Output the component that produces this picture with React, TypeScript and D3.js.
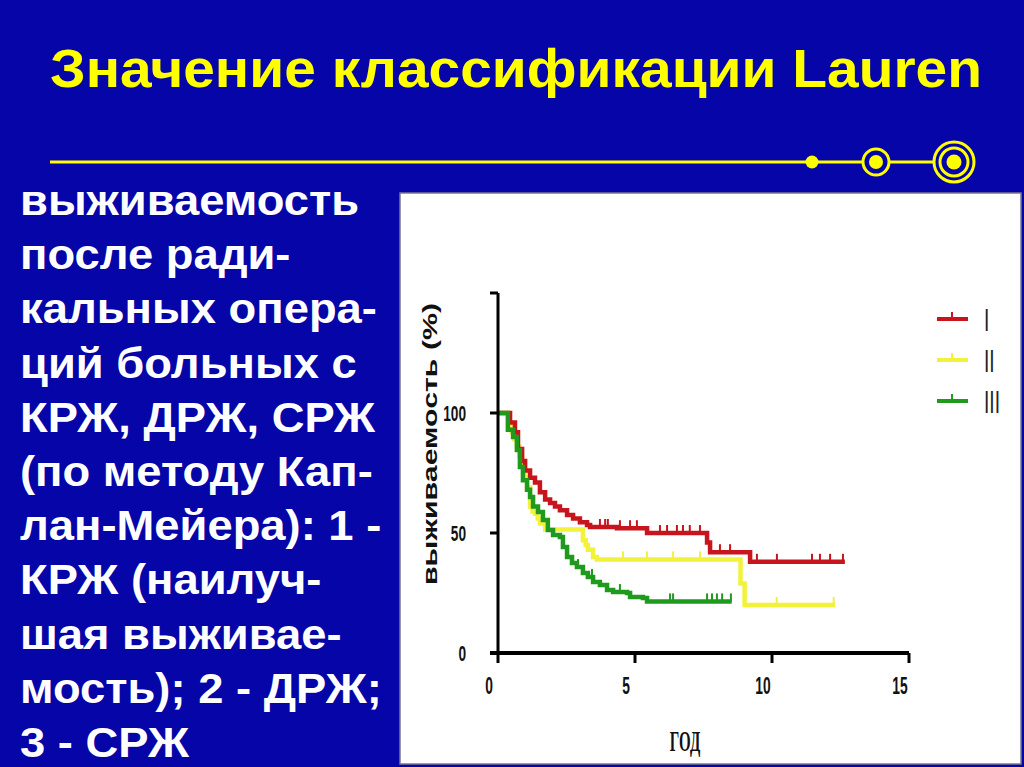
import * as React from 'react'
import { useEffect, useRef } from 'react'
import * as d3 from 'd3'

// survival curves: [year, survival %], step after each point
const groupI: [number, number][] = [
  [0, 100], [0.44, 96], [0.62, 92], [0.73, 85], [0.88, 80], [0.99, 76], [1.17, 73],
  [1.35, 71], [1.53, 67], [1.72, 64], [1.9, 62.5], [2.08, 61], [2.26, 59.5], [2.52, 57.5],
  [2.74, 56], [2.99, 54.5], [3.25, 53.3], [3.36, 52.5], [4.34, 52], [5.44, 50], [7.63, 46],
  [7.74, 42], [9.2, 38], [12.66, 38],
]
const groupII: [number, number][] = [
  [0, 100], [0.4, 95], [0.51, 92], [0.6, 89], [0.69, 86], [0.78, 82], [0.88, 78], [0.97, 73],
  [1.06, 69], [1.17, 61], [1.26, 59], [1.35, 58], [1.45, 56], [1.53, 54], [1.72, 51.5],
  [3.1, 47], [3.2, 45], [3.28, 43], [3.47, 40], [3.61, 39], [8.85, 29], [9.0, 20], [12.3, 20],
]
const groupIII: [number, number][] = [
  [0, 100], [0.36, 93], [0.55, 90], [0.69, 84.6], [0.8, 77.5], [0.91, 72], [1.06, 68],
  [1.17, 65], [1.28, 61], [1.46, 58.7], [1.64, 55.4], [1.82, 51.3], [2.01, 49.2], [2.26, 48.3],
  [2.37, 44.2], [2.52, 40], [2.7, 37.5], [2.88, 35.8], [3.1, 33.3], [3.28, 31.7], [3.47, 29.6],
  [3.72, 28.3], [3.98, 26.3], [4.2, 25.4], [4.71, 25], [4.82, 23.3], [5.29, 22.9], [5.44, 21.5],
  [8.53, 21.5],
]

// censored observations (years)
const censoredI = [3.72, 3.91, 4.01, 4.45, 4.82, 5.07, 5.91, 6.17, 6.53, 6.75, 7.0, 7.37, 8.1, 8.47, 9.45, 10.18, 11.46, 11.75, 12.12, 12.59]
const censoredII = [4.56, 5.44, 6.39, 7.37, 10.17, 12.25]
const censoredIII = [2.74, 2.92, 3.43, 4.45, 6.28, 6.39, 7.63, 7.81, 7.99, 8.18, 8.5]

const groupLabels = ['I', 'II', 'III']
const groupColors = ['#c8141c', '#f2f23a', '#1f9a1f']

const xTicks = [0, 5, 10, 15]
const yTicks = [0, 50, 100]

const titleText = 'Значение классификации Lauren'
const sideLines = [
  'выживаемость',
  'после ради-',
  'кальных опера-',
  'ций больных с',
  'КРЖ, ДРЖ, СРЖ',
  '(по методу Кап-',
  'лан-Мейера): 1 -',
  'КРЖ (наилуч-',
  'шая выживае-',
  'мость); 2 - ДРЖ;',
  '3 - СРЖ',
]

const BLUE = '#0505a8'
const YELLOW = '#ffff00'

function survivalAt(series: [number, number][], t: number) {
  let s = series[0][1]
  for (const [tt, v] of series) {
    if (tt <= t) s = v
  }
  return s
}

export default function App() {
  const svgRef = useRef<SVGSVGElement>(null)
  const width = 1024
  const height = 767

  useEffect(() => {
    document.body.style.margin = '0'
    if (!svgRef.current) return
    const svg = d3.select(svgRef.current)
    svg.selectAll('*').remove()

    svg.append('rect')
      .attr('width', width)
      .attr('height', height)
      .attr('fill', BLUE)

    // Title
    svg.append('text')
      .attr('x', 50)
      .attr('y', 87)
      .attr('font-family', '"Liberation Sans", Arial, sans-serif')
      .attr('font-weight', '700')
      .attr('font-size', '53px')
      .attr('fill', YELLOW)
      .attr('textLength', 932)
      .attr('lengthAdjust', 'spacingAndGlyphs')
      .text(titleText)

    // Decorative line with targets
    const deco = svg.append('g')
    deco.append('line')
      .attr('x1', 50).attr('x2', 934)
      .attr('y1', 162).attr('y2', 162)
      .attr('stroke', YELLOW).attr('stroke-width', 3)
    deco.append('circle').attr('cx', 812).attr('cy', 162).attr('r', 6.5).attr('fill', YELLOW)
    deco.append('circle').attr('cx', 876).attr('cy', 162).attr('r', 13)
      .attr('fill', BLUE).attr('stroke', YELLOW).attr('stroke-width', 3)
    deco.append('circle').attr('cx', 876).attr('cy', 162).attr('r', 7).attr('fill', YELLOW)
    deco.append('circle').attr('cx', 954).attr('cy', 162).attr('r', 20)
      .attr('fill', BLUE).attr('stroke', YELLOW).attr('stroke-width', 3)
    deco.append('circle').attr('cx', 954).attr('cy', 162).attr('r', 14)
      .attr('fill', 'none').attr('stroke', YELLOW).attr('stroke-width', 3)
    deco.append('circle').attr('cx', 954).attr('cy', 162).attr('r', 7.5).attr('fill', YELLOW)

    // Side text (slightly wider face than Liberation Sans)
    const side = svg.append('text')
      .attr('transform', 'scale(1.055, 1)')
      .attr('font-family', '"Liberation Sans", Arial, sans-serif')
      .attr('font-weight', '700')
      .attr('font-size', '43px')
      .attr('fill', '#ffffff')
    sideLines.forEach((line, i) => {
      side.append('tspan')
        .attr('x', 20 / 1.055)
        .attr('y', 215 + i * 54.2)
        .text(line)
    })

    // Chart panel
    svg.append('rect')
      .attr('x', 400)
      .attr('y', 193)
      .attr('width', 621)
      .attr('height', 571)
      .attr('fill', '#ffffff')
      .attr('stroke', '#7a7a8a')
      .attr('stroke-width', 1.5)

    const xScale = d3.scaleLinear().domain([0, 15]).range([498, 909])
    const yScale = d3.scaleLinear().domain([0, 150]).range([653, 293])

    const chart = svg.append('g')

    // Curves
    const line = d3.line<[number, number]>()
      .x(d => xScale(d[0]))
      .y(d => yScale(d[1]))
      .curve(d3.curveStepAfter)

    const series = [
      { data: groupII, censored: censoredII, color: groupColors[1] },
      { data: groupI, censored: censoredI, color: groupColors[0] },
      { data: groupIII, censored: censoredIII, color: groupColors[2] },
    ]

    series.forEach(s => {
      chart.append('path')
        .attr('d', line(s.data))
        .attr('fill', 'none')
        .attr('stroke', s.color)
        .attr('stroke-width', 4.5)
      s.censored.forEach(c => {
        const y = yScale(survivalAt(s.data, c))
        chart.append('line')
          .attr('x1', xScale(c)).attr('x2', xScale(c))
          .attr('y1', y).attr('y2', y - 8)
          .attr('stroke', s.color)
          .attr('stroke-width', 2)
      })
    })

    // Y axis
    chart.append('line')
      .attr('x1', xScale(0)).attr('x2', xScale(0))
      .attr('y1', yScale(150)).attr('y2', yScale(0) + 10)
      .attr('stroke', '#000').attr('stroke-width', 3)
    ;[50, 100, 150].forEach(v => {
      chart.append('line')
        .attr('x1', xScale(0) - 8).attr('x2', xScale(0))
        .attr('y1', yScale(v)).attr('y2', yScale(v))
        .attr('stroke', '#000').attr('stroke-width', 3)
    })
    yTicks.forEach(v => {
      chart.append('text')
        .attr('transform', `translate(466, ${yScale(v) + 8}) scale(0.62, 1)`)
        .attr('text-anchor', 'end')
        .attr('font-family', '"Liberation Sans", Arial, sans-serif')
        .attr('font-weight', '700')
        .attr('font-size', '22px')
        .attr('fill', '#111')
        .text(v)
    })

    // X axis
    chart.append('line')
      .attr('x1', xScale(0) - 8).attr('x2', xScale(15))
      .attr('y1', yScale(0)).attr('y2', yScale(0))
      .attr('stroke', '#000').attr('stroke-width', 4)
    xTicks.filter(t => t > 0).forEach(t => {
      chart.append('line')
        .attr('x1', xScale(t)).attr('x2', xScale(t))
        .attr('y1', yScale(0)).attr('y2', yScale(0) + 10)
        .attr('stroke', '#000').attr('stroke-width', 3)
    })
    xTicks.forEach(t => {
      chart.append('text')
        .attr('transform', `translate(${xScale(t) - 9}, 694) scale(0.6, 1)`)
        .attr('text-anchor', 'middle')
        .attr('font-family', '"Liberation Sans", Arial, sans-serif')
        .attr('font-weight', '700')
        .attr('font-size', '23px')
        .attr('fill', '#111')
        .text(t)
    })

    // Axis titles
    chart.append('text')
      .attr('transform', 'translate(685, 751) scale(0.5, 1)')
      .attr('text-anchor', 'middle')
      .attr('font-family', '"Liberation Serif", "Times New Roman", serif')
      .attr('font-weight', '700')
      .attr('font-size', '30px')
      .attr('fill', '#111')
      .text('ГОД')

    chart.append('text')
      .attr('transform', 'translate(437, 444) rotate(-90)')
      .attr('text-anchor', 'middle')
      .attr('font-family', '"Liberation Sans", Arial, sans-serif')
      .attr('font-weight', '700')
      .attr('font-size', '21px')
      .attr('fill', '#111')
      .attr('textLength', 282)
      .attr('lengthAdjust', 'spacingAndGlyphs')
      .text('выживаемость (%)')

    // Legend
    groupLabels.forEach((label, i) => {
      const y = 319 + i * 41
      const g = chart.append('g')
      g.append('line')
        .attr('x1', 937).attr('x2', 968)
        .attr('y1', y).attr('y2', y)
        .attr('stroke', groupColors[i]).attr('stroke-width', 4)
      g.append('line')
        .attr('x1', 952).attr('x2', 952)
        .attr('y1', y).attr('y2', y - 7)
        .attr('stroke', groupColors[i]).attr('stroke-width', 2)
      g.append('text')
        .attr('transform', `translate(984, ${y + 12}) scale(0.6, 1)`)
        .attr('font-family', '"Liberation Sans", Arial, sans-serif')
        .attr('font-size', '32px')
        .attr('fill', '#222')
        .text(label)
    })
  }, [])

  return (
    <svg
      ref={svgRef}
      width={width}
      height={height}
      style={{ position: 'absolute', left: 0, top: 0, display: 'block' }}
    />
  )
}
